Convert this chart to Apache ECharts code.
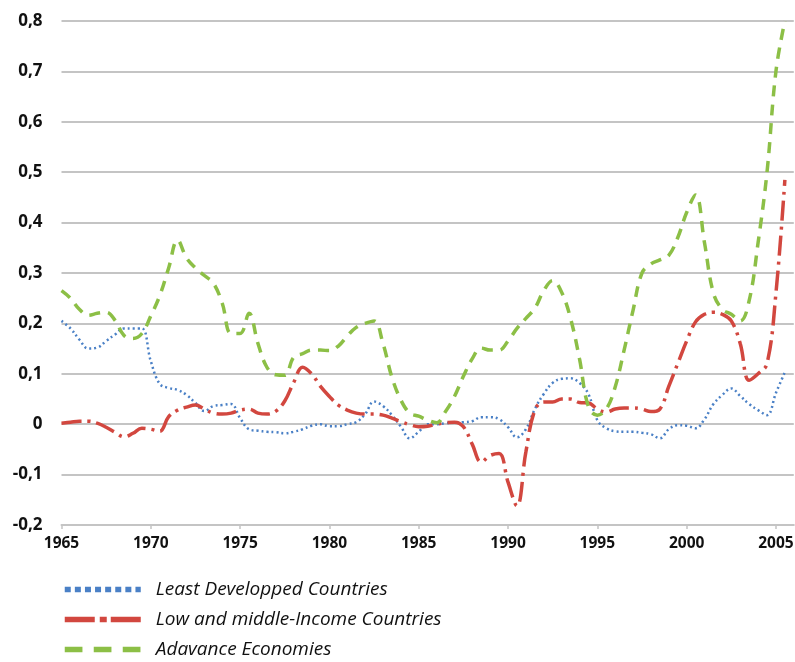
<!DOCTYPE html>
<html>
<head>
<meta charset="utf-8">
<script src="https://cdn.jsdelivr.net/npm/echarts@6/dist/echarts.min.js"></script>
<style>
html,body{margin:0;padding:0;background:#fff;}
#chart{width:795px;height:662px;}
</style>
</head>
<body>
<div id="chart"></div>
<script>
// Half-year positions (x values)
const years = [
 1965,1965.5,1966,1966.5,1967,1967.5,1968,1968.5,1969,1969.5,
 1970,1970.5,1971,1971.5,1972,1972.5,1973,1973.5,1974,1974.5,
 1975,1975.5,1976,1976.5,1977,1977.5,1978,1978.5,1979,1979.5,
 1980,1980.5,1981,1981.5,1982,1982.5,1983,1983.5,1984,1984.5,
 1985,1985.5,1986,1986.5,1987,1987.5,1988,1988.5,1989,1989.5,
 1990,1990.5,1991,1991.5,1992,1992.5,1993,1993.5,1994,1994.5,
 1995,1995.5,1996,1996.5,1997,1997.5,1998,1998.5,1999,1999.5,
 2000,2000.5,2001,2001.5,2002,2002.5,2003,2003.5,2004,2004.5,
 2005,2005.5
];
const xTickLabels = ['1965','1970','1975','1980','1985','1990','1995','2000','2005'];
const seriesNames = ['Least Developped Countries','Low and middle-Income Countries','Adavance Economies'];

const leastDeveloped = [
 0.205,0.19,0.168,0.15,0.152,0.165,0.178,0.19,0.19,0.19,
 0.125,0.08,0.072,0.068,0.058,0.042,0.026,0.036,0.038,0.04,
 0.012,-0.01,-0.013,-0.015,-0.016,-0.018,-0.015,-0.01,-0.003,0.0,
 -0.004,-0.004,0.0,0.004,0.02,0.045,0.036,0.018,-0.005,-0.028,
 -0.015,0.0,0.0,0.002,0.003,0.004,0.006,0.014,0.014,0.01,
 -0.006,-0.026,-0.01,0.03,0.06,0.082,0.09,0.091,0.082,0.06,
 0.008,-0.008,-0.014,-0.015,-0.015,-0.017,-0.02,-0.028,-0.01,-0.002,
 -0.003,-0.008,0.01,0.04,0.058,0.071,0.056,0.04,0.028,0.018,
 0.062,0.103
];
const lowMiddle = [
 0.002,0.004,0.006,0.006,0.002,-0.006,-0.016,-0.025,-0.018,-0.008,
 -0.01,-0.014,0.015,0.028,0.034,0.038,0.03,0.022,0.02,0.022,
 0.028,0.03,0.022,0.02,0.026,0.046,0.083,0.113,0.1,0.075,
 0.055,0.038,0.028,0.022,0.02,0.02,0.018,0.012,0.005,-0.001,
 -0.005,-0.004,0.0,0.003,0.004,-0.005,-0.04,-0.075,-0.062,-0.058,
 -0.115,-0.162,-0.055,0.028,0.044,0.044,0.05,0.05,0.043,0.042,
 0.03,0.024,0.03,0.032,0.032,0.03,0.025,0.03,0.075,0.12,
 0.165,0.203,0.218,0.222,0.218,0.205,0.16,0.087,0.1,0.12,
 0.26,0.485
];
const advanced = [
 0.265,0.25,0.228,0.216,0.22,0.222,0.206,0.176,0.17,0.18,
 0.215,0.255,0.31,0.365,0.33,0.31,0.295,0.28,0.24,0.18,
 0.18,0.22,0.16,0.113,0.098,0.097,0.133,0.14,0.147,0.147,
 0.146,0.155,0.175,0.192,0.2,0.205,0.16,0.093,0.048,0.022,
 0.016,0.008,0.003,0.025,0.055,0.095,0.13,0.151,0.147,0.147,
 0.165,0.19,0.21,0.23,0.265,0.285,0.262,0.21,0.13,0.035,
 0.018,0.03,0.074,0.147,0.226,0.3,0.318,0.326,0.335,0.37,
 0.42,0.455,0.36,0.26,0.228,0.218,0.205,0.245,0.36,0.5,
 0.7,0.8
];

const colors = ['#4a80c6','#d2473f','#8cbf46'];
const dashPlot = [[2,3],[20,6,3,6],[11,8]];
const dashLegend = [[6,4.1],[30,5,7,4],[17.7,11.3]];
function pairs(vals){ return years.map((y,i)=>[y, vals[i]]); }

const chart = echarts.init(document.getElementById('chart'), null, {renderer:'canvas'});
const gridColor = '#c4c4c4';

function legendFor(i){
  return {
    orient:'horizontal', left:62, top:580 + i*30, padding:0,
    itemWidth:76, itemHeight:20, selectedMode:false,
    data:[{name:seriesNames[i], itemStyle:{opacity:0}, lineStyle:{width:5.5, type:dashLegend[i], color:colors[i], opacity:1, cap:'butt'}}],
    formatter:function(n){ return '{t|' + n + '}'; },
    textStyle:{rich:{t:{fontFamily:'Open Sans', fontStyle:'italic', fontSize:19, color:'#111', padding:[0,0,0,10], lineHeight:20}}}
  };
}

chart.setOption({
  animation:false,
  backgroundColor:'#ffffff',
  grid:{left:61.5, right:1.2, top:21, bottom:137, containLabel:false, outerBoundsMode:'none'},
  xAxis:{
    type:'value', min:1965, max:2006, interval:5,
    axisLine:{show:true, onZero:false, lineStyle:{color:gridColor, width:2}},
    axisTick:{show:true, length:4, lineStyle:{color:gridColor, width:1.5}},
    splitLine:{show:false},
    axisLabel:{
      showMaxLabel:false, margin:11,
      fontFamily:'Open Sans', fontWeight:'bold', fontSize:15.5, color:'#111',
      formatter:function(v){ const s=String(Math.round(v)); return xTickLabels.indexOf(s)>=0 ? s : ''; }
    }
  },
  yAxis:{
    type:'value', min:-0.2, max:0.8, interval:0.1,
    axisLine:{show:false}, axisTick:{show:false},
    splitLine:{show:true, lineStyle:{color:gridColor, width:2}},
    axisLabel:{
      margin:19, fontFamily:'Open Sans', fontWeight:'bold', fontSize:17, color:'#111',
      formatter:function(v){ const r=Math.round(v*10)/10; if (r===0) return '0'; return r.toFixed(1).replace('.',','); }
    }
  },
  legend:[legendFor(0), legendFor(1), legendFor(2)],
  series:[0,1,2].map(i=>({
    name:seriesNames[i], type:'line',
    data:pairs([leastDeveloped,lowMiddle,advanced][i]),
    smooth:0.4, symbol:'none',
    lineStyle:{color:colors[i], width:i===0?2.5:3.5, type:dashPlot[i]},
    itemStyle:{color:colors[i]}
  }))
});
</script>
</body>
</html>
